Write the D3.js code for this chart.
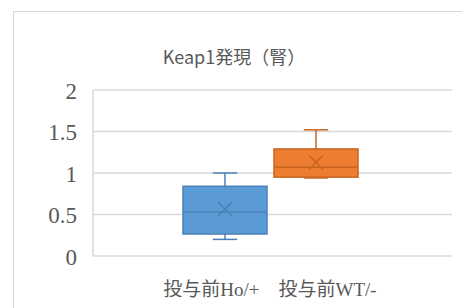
<!DOCTYPE html>
<html lang="ja">
<head>
  <meta charset="utf-8">
  <title>Keap1発現（腎）</title>
  <style type="text/css">
    body  { margin: 0; background: #fff; }
    svg   { display: block; }
    .title { font: 18px "Noto Sans CJK JP", "Noto Sans", sans-serif; fill: #595959; }
    .xlab  { font: 19px "Liberation Serif", "Noto Sans CJK JP", serif; fill: #595959; }
  </style>
</head>
<body>
<script src="https://cdn.jsdelivr.net/npm/d3@7"></script>
<script>
  //----------------------------------------------------------------------------
  // data
  var categories = ["投与前Ho/+\u3000投与前WT/-"];
  var series     = ["投与前Ho/+", "投与前WT/-"];
  var mins       = [0.20, 0.94];
  var q1s        = [0.265, 0.95];
  var medians    = [0.53, 1.07];
  var q3s        = [0.84, 1.29];
  var maxs       = [1.00, 1.52];
  var means      = [0.565, 1.13];
  var yTicks     = [0, 0.5, 1, 1.5, 2];
  var fills      = ["#5b9bd5", "#ed7d31"];
  var strokes    = ["#4a80b8", "#c8651f"];

  var width = 462, height = 308;

  var svg = d3.select("body").append("svg")
      .attr("width", width)
      .attr("height", height);

  // chart border
  svg.append("rect")
      .attr("x", 13.5).attr("y", 11.5)
      .attr("width", 470).attr("height", 320)
      .attr("fill", "#fff")
      .attr("stroke", "#d9d9d9");

  svg.append("text")
      .attr("class", "title")
      .attr("x", 234).attr("y", 64)
      .attr("text-anchor", "middle")
      .text("Keap1発現（腎）");

  var plotLeft = 93, plotRight = 452;
  var y = d3.scaleLinear().domain([0, 2]).range([256, 90]);

  var x = d3.scaleBand()
      .domain(series)
      .range([183, 358])
      .paddingInner(0.077);

  // gridlines
  svg.append("g").selectAll("line")
      .data(yTicks)
    .enter().append("line")
      .attr("x1", plotLeft).attr("x2", plotRight)
      .attr("y1", function(d) { return y(d); })
      .attr("y2", function(d) { return y(d); })
      .attr("stroke", "#d9d9d9")
      .attr("stroke-width", 1.5);

  svg.append("line")
      .attr("x1", plotLeft).attr("x2", plotLeft)
      .attr("y1", y(2)).attr("y2", y(0))
      .attr("stroke", "#d9d9d9")
      .attr("stroke-width", 1.5);

  // y axis labels
  var yAxis = d3.axisLeft(y).tickValues(yTicks).tickSize(0).tickPadding(0)
      .tickFormat(d3.format("~g"));
  var ya = svg.append("g")
      .attr("transform", "translate(77,0)")
      .call(yAxis)
      .attr("font-family", "'Liberation Serif', serif")
      .attr("font-size", 23);
  ya.select(".domain").remove();
  ya.selectAll("text")
      .attr("dy", "0.35em")
      .attr("fill", "#595959");

  // category label
  svg.append("text")
      .attr("class", "xlab")
      .attr("x", 270).attr("y", 296)
      .attr("text-anchor", "middle")
      .text(categories[0]);

  // boxes
  var boxes = svg.append("g").selectAll("g")
      .data(series)
    .enter().append("g");

  boxes.each(function(s, i) {
    var g = d3.select(this);
    var bx = x(s), bw = x.bandwidth(), cx = bx + bw / 2;
    var cap = bw * 0.29;

    // whiskers
    g.append("line")
        .attr("x1", cx).attr("x2", cx)
        .attr("y1", y(maxs[i])).attr("y2", y(q3s[i]))
        .attr("stroke", strokes[i]).attr("stroke-width", 1.5);
    g.append("line")
        .attr("x1", cx).attr("x2", cx)
        .attr("y1", y(mins[i])).attr("y2", y(q1s[i]))
        .attr("stroke", strokes[i]).attr("stroke-width", 1.5);
    g.selectAll(".cap")
        .data([mins[i], maxs[i]])
      .enter().append("line")
        .attr("x1", cx - cap / 2).attr("x2", cx + cap / 2)
        .attr("y1", function(d) { return y(d); })
        .attr("y2", function(d) { return y(d); })
        .attr("stroke", strokes[i]).attr("stroke-width", 1.5);

    // box
    g.append("rect")
        .attr("x", bx).attr("y", y(q3s[i]))
        .attr("width", bw).attr("height", y(q1s[i]) - y(q3s[i]))
        .attr("fill", fills[i])
        .attr("stroke", strokes[i]).attr("stroke-width", 1.5);

    // median
    g.append("line")
        .attr("x1", bx).attr("x2", bx + bw)
        .attr("y1", y(medians[i])).attr("y2", y(medians[i]))
        .attr("stroke", strokes[i]).attr("stroke-width", 1.5);

    // mean marker
    var my = y(means[i]), r = 7;
    g.append("path")
        .attr("d", "M" + (cx - r) + "," + (my - r) + "L" + (cx + r) + "," + (my + r) +
                   "M" + (cx - r) + "," + (my + r) + "L" + (cx + r) + "," + (my - r))
        .attr("stroke", strokes[i]).attr("stroke-width", 1.5)
        .attr("fill", "none");
  });

  //----------------------------------------------------------------------------
</script>
</body>
</html>
